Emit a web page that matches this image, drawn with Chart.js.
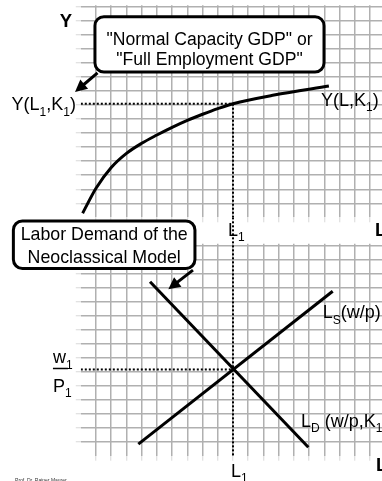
<!DOCTYPE html>
<html><head><meta charset="utf-8">
<style>
html,body{margin:0;padding:0;background:#fff;}
#wrap{position:relative;width:382px;height:481px;overflow:hidden;background:#fff;}
canvas{position:absolute;left:0;top:0;}
</style>
<script src="https://cdn.jsdelivr.net/npm/chart.js@4/dist/chart.umd.min.js"></script>
</head><body>
<div id="wrap"><canvas id="c1" width="382" height="481"></canvas><canvas id="c2" width="382" height="481"></canvas></div>
<script>
// ---------- data ----------
const labourTicks = [1,2,3,4,5,6,7,8,9,10,11,12,13,14,15,16,17,18,19];
const outputTicks = [1,2,3,4,5,6,7,8,9,10,11,12,13,14,15];
const wageTicks   = [1,2,3,4,5,6,7,8,9,10,11,12,13,14,15];
// production function Y(L,K1)
const prodL = [0.12, 1, 2, 3, 4, 5, 6, 7, 8, 9, 10, 12.7, 16.3];
const prodY = [0.29, 2.07, 3.55, 4.56, 5.28, 5.87, 6.42, 6.92, 7.35, 7.75, 8.1, 8.72, 9.36];
// labour demand / supply
const demandL = [4.55, 14.95];
const demandW = [12.4, 0.6];
const supplyL = [3.78, 16.55];
const supplyW = [0.83, 11.73];
// equilibrium
const L1 = 10, Y1 = 8.1, W1 = 6.15;

// ---------- style ----------
const FONT = '"Liberation Sans", Arial, Helvetica, sans-serif';
const GRID = '#b0b0b0';
const TICK = '#d8d8d8';

function gridScale(max, tickValues) {
  return {
    type: 'linear', min: 0, max: max,
    afterBuildTicks: a => { a.ticks = tickValues.map(v => ({value: v})); },
    afterFit: s => { if (s.isHorizontal()) s.height = 5; else s.width = 5; },
    grid: {color: GRID, lineWidth: 1.5, drawTicks: true, tickLength: 5, tickColor: TICK, tickWidth: 1},
    border: {display: false},
    ticks: {display: false}
  };
}
const pts = (xs, ys) => xs.map((x, i) => ({x: x, y: ys[i]}));

function drawRich(ctx, parts, x, y, align, size, bold) {
  const mainF = (bold ? 'bold ' : '') + size + 'px ' + FONT;
  const subF = Math.round(size * 0.66) + 'px ' + FONT;
  let w = 0;
  parts.forEach(p => { ctx.font = p[1] ? subF : mainF; w += ctx.measureText(p[0]).width; });
  let cx = align === 'right' ? x - w : (align === 'center' ? x - w / 2 : x);
  ctx.textAlign = 'left';
  ctx.textBaseline = 'alphabetic';
  parts.forEach(p => {
    ctx.font = p[1] ? subF : mainF;
    ctx.fillText(p[0], cx, y + (p[1] ? size * 0.29 : 0));
    cx += ctx.measureText(p[0]).width;
  });
}

function notesPlugin(notes) {
  return {
    id: 'notes',
    afterDatasetsDraw(chart) {
      const ctx = chart.ctx, xs = chart.scales.x, ys = chart.scales.y;
      const X = v => xs.getPixelForValue(v), Y = v => ys.getPixelForValue(v);
      ctx.save();
      ctx.fillStyle = '#000';
      (notes.callouts || []).forEach(c => {
        // arrow
        const ax1 = X(c.arrow[0]), ay1 = Y(c.arrow[1]), ax2 = X(c.arrow[2]), ay2 = Y(c.arrow[3]);
        const ang = Math.atan2(ay2 - ay1, ax2 - ax1);
        const hl = 12, hw = 6;
        ctx.strokeStyle = '#000'; ctx.lineWidth = 3;
        ctx.beginPath(); ctx.moveTo(ax1, ay1);
        ctx.lineTo(ax2 - Math.cos(ang) * hl * 0.8, ay2 - Math.sin(ang) * hl * 0.8); ctx.stroke();
        ctx.beginPath();
        ctx.moveTo(ax2, ay2);
        ctx.lineTo(ax2 - Math.cos(ang) * hl - Math.sin(ang) * hw, ay2 - Math.sin(ang) * hl + Math.cos(ang) * hw);
        ctx.lineTo(ax2 - Math.cos(ang) * hl + Math.sin(ang) * hw, ay2 - Math.sin(ang) * hl - Math.cos(ang) * hw);
        ctx.closePath(); ctx.fill();
        // box
        const bx1 = X(c.box[0]), bx2 = X(c.box[1]), by1 = Y(c.box[2]), by2 = Y(c.box[3]);
        ctx.beginPath(); ctx.roundRect(bx1, by1, bx2 - bx1, by2 - by1, 9);
        ctx.fillStyle = '#fff'; ctx.fill();
        ctx.lineWidth = 3; ctx.strokeStyle = '#000'; ctx.stroke();
        ctx.fillStyle = '#000';
        const cx = (bx1 + bx2) / 2;
        c.lines.forEach((t, i) => drawRich(ctx, [[t]], cx, Y(c.baselines[i]), 'center', c.size, false));
      });
      (notes.bars || []).forEach(b => {
        ctx.strokeStyle = '#000'; ctx.lineWidth = 1.5;
        ctx.beginPath(); ctx.moveTo(X(b[0]), Y(b[2])); ctx.lineTo(X(b[1]), Y(b[2])); ctx.stroke();
      });
      (notes.labels || []).forEach(l => {
        ctx.fillStyle = l.color || '#000';
        drawRich(ctx, l.parts, X(l.at[0]), Y(l.at[1]), l.align || 'left', l.size, l.bold);
      });
      ctx.restore();
    }
  };
}

const baseOpts = (pad, xmax, ymax, yTicks) => ({
  responsive: false, animation: false, events: [],
  layout: {padding: pad},
  plugins: {legend: {display: false}, tooltip: {enabled: false}},
  scales: {x: gridScale(xmax, labourTicks), y: gridScale(ymax, yTicks)},
  elements: {point: {radius: 0}, line: {borderCapStyle: 'butt'}}
});

const dotted = {borderColor: '#000', borderWidth: 2, borderDash: [2, 2], pointRadius: 0, fill: false, tension: 0};
const solid = {borderColor: '#000', borderWidth: 3, pointRadius: 0, fill: false, tension: 0};

// ---------- top panel: production function ----------
new Chart(document.getElementById('c1'), {
  type: 'line',
  data: {datasets: [
    Object.assign({data: pts([0, L1], [Y1, Y1])}, dotted),
    Object.assign({data: pts([L1, L1], [Y1, 0])}, dotted),
    Object.assign({data: pts(prodL, prodY), cubicInterpolationMode: 'monotone'}, solid, {tension: 0.4})
  ]},
  options: baseOpts({left: 75.8, top: 5.3, right: 0, bottom: 258.7}, 19.79, 15.12, outputTicks),
  plugins: [notesPlugin({
    callouts: [{
      box: [0.93, 15.98, 14.31, 10.36], arrow: [1.1, 10.3, -0.38, 8.94], size: 17.6,
      lines: ['"Normal Capacity GDP" or', '"Full Employment GDP"'], baselines: [12.28, 10.86]
    }],
    labels: [
      {parts: [['Y']], at: [-0.97, 13.6], align: 'center', size: 18.5, bold: true},
      {parts: [['Y(L'], ['1', 1], [',K'], ['1', 1], [')']], at: [-0.32, 7.62], align: 'right', size: 18},
      {parts: [['Y(L,K'], ['1', 1], [')']], at: [15.78, 7.92], size: 18},
      {parts: [['L'], ['1', 1]], at: [9.67, -1.33], size: 18},
      {parts: [['L']], at: [19.33, -1.33], size: 18.5, bold: true}
    ]
  })]
});

// ---------- bottom panel: labour market ----------
new Chart(document.getElementById('c2'), {
  type: 'line',
  data: {datasets: [
    Object.assign({data: pts([0, L1], [W1, W1])}, dotted),
    Object.assign({data: pts([L1, L1], [17.0, 0]), clip: false}, dotted),
    Object.assign({data: pts(demandL, demandW)}, solid),
    Object.assign({data: pts(supplyL, supplyW)}, solid)
  ]},
  options: baseOpts({left: 75.8, top: 243.7, right: 0, bottom: 20.3}, 19.79, 15.12, wageTicks),
  plugins: [notesPlugin({
    callouts: [{
      box: [-4.43, 7.5, 16.74, 13.35], arrow: [7.37, 13.24, 5.75, 11.87], size: 17.8,
      lines: ['Labor Demand of the', 'Neoclassical Model'], baselines: [15.38, 13.74]
    }],
    bars: [[-1.83, -0.85, 6.22]],
    labels: [
      {parts: [['L'], ['S', 1], ['(w/p)']], at: [15.89, 9.8], size: 18},
      {parts: [['w'], ['1', 1]], at: [-1.83, 6.58], size: 18},
      {parts: [['P'], ['1', 1]], at: [-1.83, 4.56], size: 18},
      {parts: [['L'], ['D', 1], [' (w/p,K'], ['1', 1], [')']], at: [14.47, 2.07], size: 18},
      {parts: [['L'], ['1', 1]], at: [9.87, -1.52], size: 18},
      {parts: [['L']], at: [19.4, -1.09], size: 18.5, bold: true},
      {parts: [['Prof. Dr. Rainer Maurer']], at: [-4.32, -1.9], size: 5, color: '#333'}
    ]
  })]
});
</script>
</body></html>
